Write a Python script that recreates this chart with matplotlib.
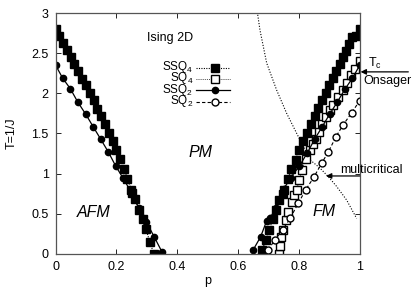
import matplotlib
matplotlib.use("Agg")
import matplotlib.pyplot as plt

plt.rcParams['font.family'] = ['Liberation Sans', 'DejaVu Sans']
plt.rcParams['mathtext.fontset'] = 'custom'
plt.rcParams['mathtext.rm'] = 'Liberation Sans'
plt.rcParams['mathtext.it'] = 'Liberation Sans:italic'
plt.rcParams['font.size'] = 9

# SSQ4 (filled squares, dotted)
ssq4_left_p = [0.0, 0.011, 0.023, 0.036, 0.049, 0.060, 0.073, 0.085, 0.099, 0.112, 0.125, 0.137,
               0.149, 0.161, 0.174, 0.187, 0.198, 0.212, 0.225, 0.236, 0.249, 0.251, 0.262, 0.274,
               0.286, 0.297, 0.310, 0.323]
ssq4_left_T = [2.80, 2.72, 2.63, 2.54, 2.46, 2.37, 2.28, 2.18, 2.10, 2.01, 1.92, 1.81,
               1.72, 1.62, 1.51, 1.41, 1.29, 1.18, 1.06, 0.93, 0.80, 0.76, 0.68, 0.55,
               0.43, 0.31, 0.14, 0.0]
ssq4_right_p = [0.678, 0.692, 0.703, 0.714, 0.724, 0.736, 0.747, 0.750, 0.764, 0.775, 0.789, 0.801,
                0.814, 0.826, 0.840, 0.852, 0.863, 0.876, 0.889, 0.900, 0.912, 0.923, 0.934, 0.945,
                0.955, 0.965, 0.976, 0.987, 1.0]
ssq4_right_T = [0.04, 0.17, 0.30, 0.43, 0.55, 0.67, 0.75, 0.80, 0.93, 1.06, 1.17, 1.29,
                1.41, 1.51, 1.62, 1.72, 1.82, 1.92, 2.01, 2.10, 2.19, 2.28, 2.37, 2.45,
                2.53, 2.62, 2.70, 2.72, 2.80]

# SQ4 (open squares, dotted)
sq4_p = [0.735, 0.738, 0.742, 0.749, 0.758, 0.765, 0.776, 0.785, 0.793, 0.801, 0.809, 0.823,
         0.837, 0.848, 0.856, 0.867, 0.877, 0.888, 0.902, 0.913, 0.930, 0.946, 0.957, 0.970,
         0.985, 1.0]
sq4_T = [0.0, 0.09, 0.21, 0.30, 0.42, 0.52, 0.65, 0.73, 0.80, 0.92, 1.04, 1.18,
         1.29, 1.37, 1.43, 1.52, 1.62, 1.70, 1.79, 1.86, 1.96, 2.04, 2.13, 2.23,
         2.31, 2.40]

# SSQ2 (filled circles, solid)
ssq2_left_p = [0.0, 0.023, 0.048, 0.073, 0.099, 0.124, 0.148, 0.173, 0.198, 0.222, 0.248, 0.273,
               0.288, 0.298, 0.324, 0.350]
ssq2_left_T = [2.35, 2.19, 2.06, 1.89, 1.74, 1.58, 1.43, 1.27, 1.09, 0.94, 0.77, 0.57,
               0.44, 0.40, 0.21, 0.02]
ssq2_right_p = [0.650, 0.674, 0.694, 0.704, 0.725, 0.751, 0.773, 0.801, 0.828, 0.852, 0.876,
                0.901, 0.926, 0.951, 0.976, 1.0]
ssq2_right_T = [0.05, 0.21, 0.41, 0.44, 0.57, 0.81, 0.95, 1.09, 1.26, 1.43, 1.58, 1.74,
                1.89, 2.05, 2.19, 2.35]

# SQ2 (open circles, dashed)
sq2_p = [0.699, 0.721, 0.747, 0.771, 0.798, 0.823, 0.850, 0.875, 0.897, 0.922, 0.946, 0.974, 1.0]
sq2_T = [0.05, 0.17, 0.30, 0.44, 0.63, 0.80, 0.96, 1.13, 1.27, 1.46, 1.61, 1.76, 1.91]

# multicritical (Nishimori-like) dotted curve
nish_p = [0.662, 0.672, 0.694, 0.727, 0.760, 0.793, 0.809, 0.837, 0.869, 0.897, 0.924, 0.957, 0.990]
nish_T = [3.05, 2.79, 2.38, 2.04, 1.75, 1.50, 1.38, 1.17, 1.07, 0.96, 0.84, 0.67, 0.44]

T_onsager = 2.269

legend_labels = ['SSQ$_4$', 'SQ$_4$', 'SSQ$_2$', 'SQ$_2$']

fig = plt.figure(figsize=(4.15, 2.91), dpi=100)
ax = fig.add_axes([0.1342, 0.1282, 0.7325, 0.8261])

ax.plot(nish_p, nish_T, color='black', ls=(0, (1, 1.5)), lw=0.8)

styles = [
    dict(color='black', marker='s', markersize=5.2, lw=0.8, ls=(0, (1, 1.2))),
    dict(color='black', marker='s', markersize=5.2, mfc='white', lw=0.6, ls=(0, (1, 1.5))),
    dict(color='black', marker='o', markersize=4.5, lw=0.9, ls='-'),
    dict(color='black', marker='o', markersize=5, mfc='white', lw=0.8, ls=(0, (3, 2))),
]

ax.plot(ssq4_left_p, ssq4_left_T, **styles[0])
ax.plot(ssq4_right_p, ssq4_right_T, **styles[0])
ax.plot(sq4_p, sq4_T, **styles[1])
ax.plot(ssq2_left_p, ssq2_left_T, **styles[2])
ax.plot(ssq2_right_p, ssq2_right_T, **styles[2])
ax.plot(sq2_p, sq2_T, **styles[3])

# manual key (gnuplot style: right-justified text, sample line to the right)
key_rows = [0.774, 0.726, 0.679, 0.633]
for lab, st, yk in zip(legend_labels, styles, key_rows):
    ln_kw = {k: v for k, v in st.items() if k not in ('marker', 'markersize', 'mfc')}
    ax.plot([0.4615, 0.573], [yk, yk], transform=ax.transAxes, **ln_kw)
    ax.plot([0.524], [yk], transform=ax.transAxes, color='black', ls='none',
            marker=st['marker'], markersize=st['markersize'], mfc=st.get('mfc', 'black'))
    ax.text(0.452, yk + 0.004, lab, transform=ax.transAxes, ha='right', va='center',
            fontsize=8.5)

ax.set_xlim(0, 1)
ax.set_ylim(0, 3)
ax.set_xticks([0, 0.2, 0.4, 0.6, 0.8, 1.0])
ax.set_xticklabels(['0', '0.2', '0.4', '0.6', '0.8', '1'])
ax.set_yticks([0, 0.5, 1, 1.5, 2, 2.5, 3])
ax.set_yticklabels(['0', '0.5', '1', '1.5', '2', '2.5', '3'])
ax.tick_params(direction='in', length=3.5, width=0.6, top=True, right=True, labelsize=9, pad=5)
for s in ax.spines.values():
    s.set_color('#555555')
    s.set_linewidth(0.9)

ax.set_xlabel('p', fontsize=9, labelpad=2)
ax.set_ylabel('T=1/J', fontsize=9, labelpad=10)

ax.text(0.30, 2.69, 'Ising 2D', fontsize=9, ha='left', va='center')
ax.text(0.125, 0.51, 'AFM', fontsize=11.5, style='italic', ha='center', va='center')
ax.text(0.475, 1.26, 'PM', fontsize=11.5, style='italic', ha='center', va='center')
ax.text(0.883, 0.53, 'FM', fontsize=11.5, style='italic', ha='center', va='center')

ax.annotate('', xy=(1.003, T_onsager), xytext=(1.16, T_onsager),
            arrowprops=dict(arrowstyle='-|>', color='black', lw=0.9, mutation_scale=8,
                            shrinkA=0, shrinkB=0),
            annotation_clip=False)
ax.text(1.027, 2.38, 'T$_\\mathrm{c}$', fontsize=9, ha='left', va='center', clip_on=False)
ax.text(1.012, 2.16, 'Onsager', fontsize=9, ha='left', va='center', clip_on=False)

ax.annotate('', xy=(0.889, 0.97), xytext=(1.0, 0.97),
            arrowprops=dict(arrowstyle='-|>', color='black', lw=0.9, mutation_scale=8,
                            shrinkA=0, shrinkB=0),
            annotation_clip=False)
ax.text(0.937, 1.05, 'multicritical', fontsize=9, ha='left', va='center', clip_on=False)

fig.savefig('out.png', dpi=100)
